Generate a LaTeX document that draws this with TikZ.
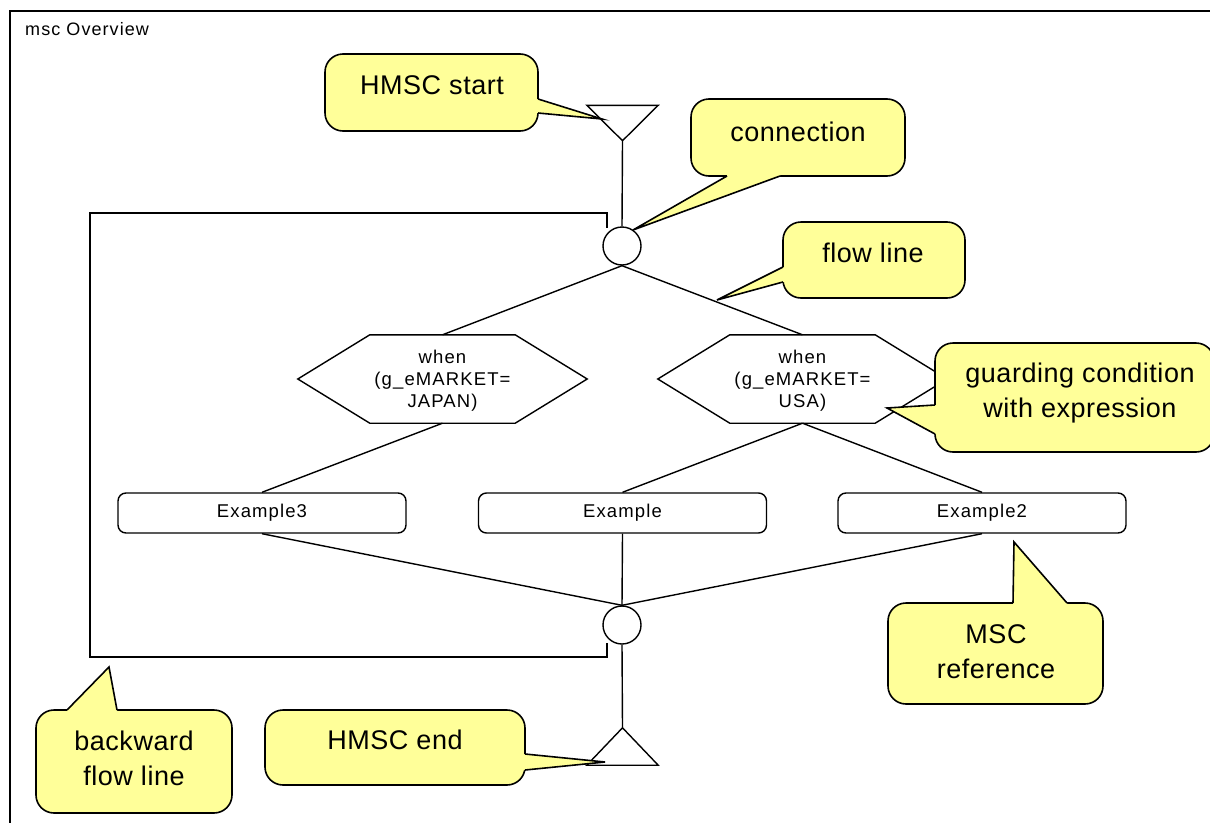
\documentclass[tikz,border=0pt]{standalone}
\usepackage{fontspec}
\setmainfont{Liberation Sans}
\newfontfamily\notefont[LetterSpace=2]{Liberation Sans}
\newfontfamily\labelfont[LetterSpace=6]{Liberation Sans}
\usetikzlibrary{calc}
\definecolor{noteyellow}{RGB}{255,255,153}

% Yellow comment callout: box corners, tail base 1, tail tip, tail base 2, inward shift
\newcommand\notecallout[6]{%
  \filldraw[notebox] #1 rectangle #2;
  \fill[noteyellow] ($#3+#6$) -- #3 -- #4 -- #5 -- ($#5+#6$) -- cycle;
  \draw[notetail] #3 -- #4 -- #5;
}

\begin{document}
\begin{tikzpicture}[x=1pt,y=-1pt,
  flow/.style={line width=1.4pt},
  conn/.style={circle,draw,line width=1.4pt,minimum size=38pt,inner sep=0pt},
  refbox/.style={draw,rounded corners=8pt,line width=1.4pt,minimum width=288pt,
    minimum height=40pt,inner sep=0pt,font=\labelfont\fontsize{18.5}{22}\selectfont},
  guardbox/.style={minimum width=289pt,minimum height=88pt,inner sep=0pt,align=center,
    font=\labelfont\fontsize{18.5}{22}\selectfont},
  termbox/.style={minimum width=71pt,inner sep=0pt},
  notebox/.style={fill=noteyellow,draw,line width=1.6pt,rounded corners=18pt},
  notetail/.style={line width=1.6pt,line join=miter},
  notetext/.style={font=\notefont\fontsize{27}{35}\selectfont,align=center,inner sep=0pt},
]
\useasboundingbox (0,0) rectangle (1210,822);
\clip (0,0) rectangle (1210,822);

% frame of the diagram
\draw[line width=1.4pt] (10,11) rectangle (1240,850);
\node[anchor=west,inner sep=0pt,font=\labelfont\fontsize{18}{20}\selectfont] (title) at (25,29) {msc Overview};

% start and end symbols
\node[termbox,minimum height=35pt] (start) at (622.5,123) {};
\draw[flow] (start.north west) -- (start.north east) -- (start.south) -- cycle;
\node[termbox,minimum height=37pt] (finish) at (622.5,746.5) {};
\draw[flow] (finish.south west) -- (finish.south east) -- (finish.north) -- cycle;

% connection points
\node[conn] (top) at (622,246) {};
\node[conn] (bot) at (622,625) {};

% guarding conditions
\node[guardbox] (gA) at (442.5,381) {when\\(g\_eMARKET=\\JAPAN)};
\node[guardbox] (gB) at (802.5,381) {when\\(g\_eMARKET=\\USA)};
\foreach \g in {gA,gB}{
  \draw[flow] ($(\g.north west)+(72,-2)$) -- ($(\g.north east)+(-72,-2)$) -- ($(\g.east)+(0,-2)$)
    -- ($(\g.south east)+(-72,-2)$) -- ($(\g.south west)+(72,-2)$) -- ($(\g.west)+(0,-2)$) -- cycle;
}
\coordinate (gAtop) at ($(gA.north)+(0,-2)$);
\coordinate (gAbot) at ($(gA.south)+(0,-2)$);
\coordinate (gBtop) at ($(gB.north)+(0,-2)$);
\coordinate (gBbot) at ($(gB.south)+(0,-2)$);

% MSC references
\node[refbox] (ex3) at (262,513) {Example3};
\node[refbox] (ex) at (622.5,513) {Example};
\node[refbox] (ex2) at (982,513) {Example2};

% flow lines
\draw[flow] (start.south) -- (top.north);
\draw[flow] (top.south) -- (gAtop);
\draw[flow] (top.south) -- (gBtop);
\draw[flow] (gAbot) -- (ex3.north);
\draw[flow] (gBbot) -- (ex.north);
\draw[flow] (gBbot) -- (ex2.north);
\draw[flow] (ex3.south) -- (bot.north);
\draw[flow] (ex.south) -- (bot.north);
\draw[flow] (ex2.south) -- (bot.north);
\draw[flow] (bot.south) -- (finish.north);

% backward flow line
\coordinate (backL) at (90,657);
\coordinate (backU) at (90,213);
\draw[flow] ($(bot.center)+(-15,18)$) |- (backL) -- (backU) -| ($(top.center)+(-15,-18)$);

% comment callouts
\notecallout{(325,54)}{(538,131)}{(538,99)}{(602,119)}{(538,113)}{(-4,0)}
\node[notetext] (nStart) at (432,85) {HMSC start};

\notecallout{(691,99)}{(905,176)}{(727,176)}{(633,230)}{(780,176)}{(0,-4)}
\node[notetext] (nConn) at (798,132) {connection};

\notecallout{(783,222)}{(965,298)}{(783,267)}{(717,300)}{(783,282)}{(4,0)}
\node[notetext] (nFlow) at (873,253) {flow line};

\notecallout{(935,343)}{(1214,452)}{(935,405)}{(887,408)}{(935,434)}{(4,0)}
\node[notetext] (nGuard) at (1080,393) {guarding condition\\with expression};

\notecallout{(888,603)}{(1103,704)}{(1013,603)}{(1014,542)}{(1067,603)}{(0,4)}
\node[notetext,text depth=0pt] (nRef) at (996,652) {MSC\\reference};

\notecallout{(36,710)}{(232,813)}{(67,710)}{(109,667)}{(117,710)}{(0,4)}
\node[notetext] (nBack) at (134,758) {backward\\flow line};

\notecallout{(265,710)}{(525,785)}{(525,754)}{(605,762)}{(525,770)}{(-4,0)}
\node[notetext] (nEnd) at (395,740) {HMSC end};

\end{tikzpicture}
\end{document}
